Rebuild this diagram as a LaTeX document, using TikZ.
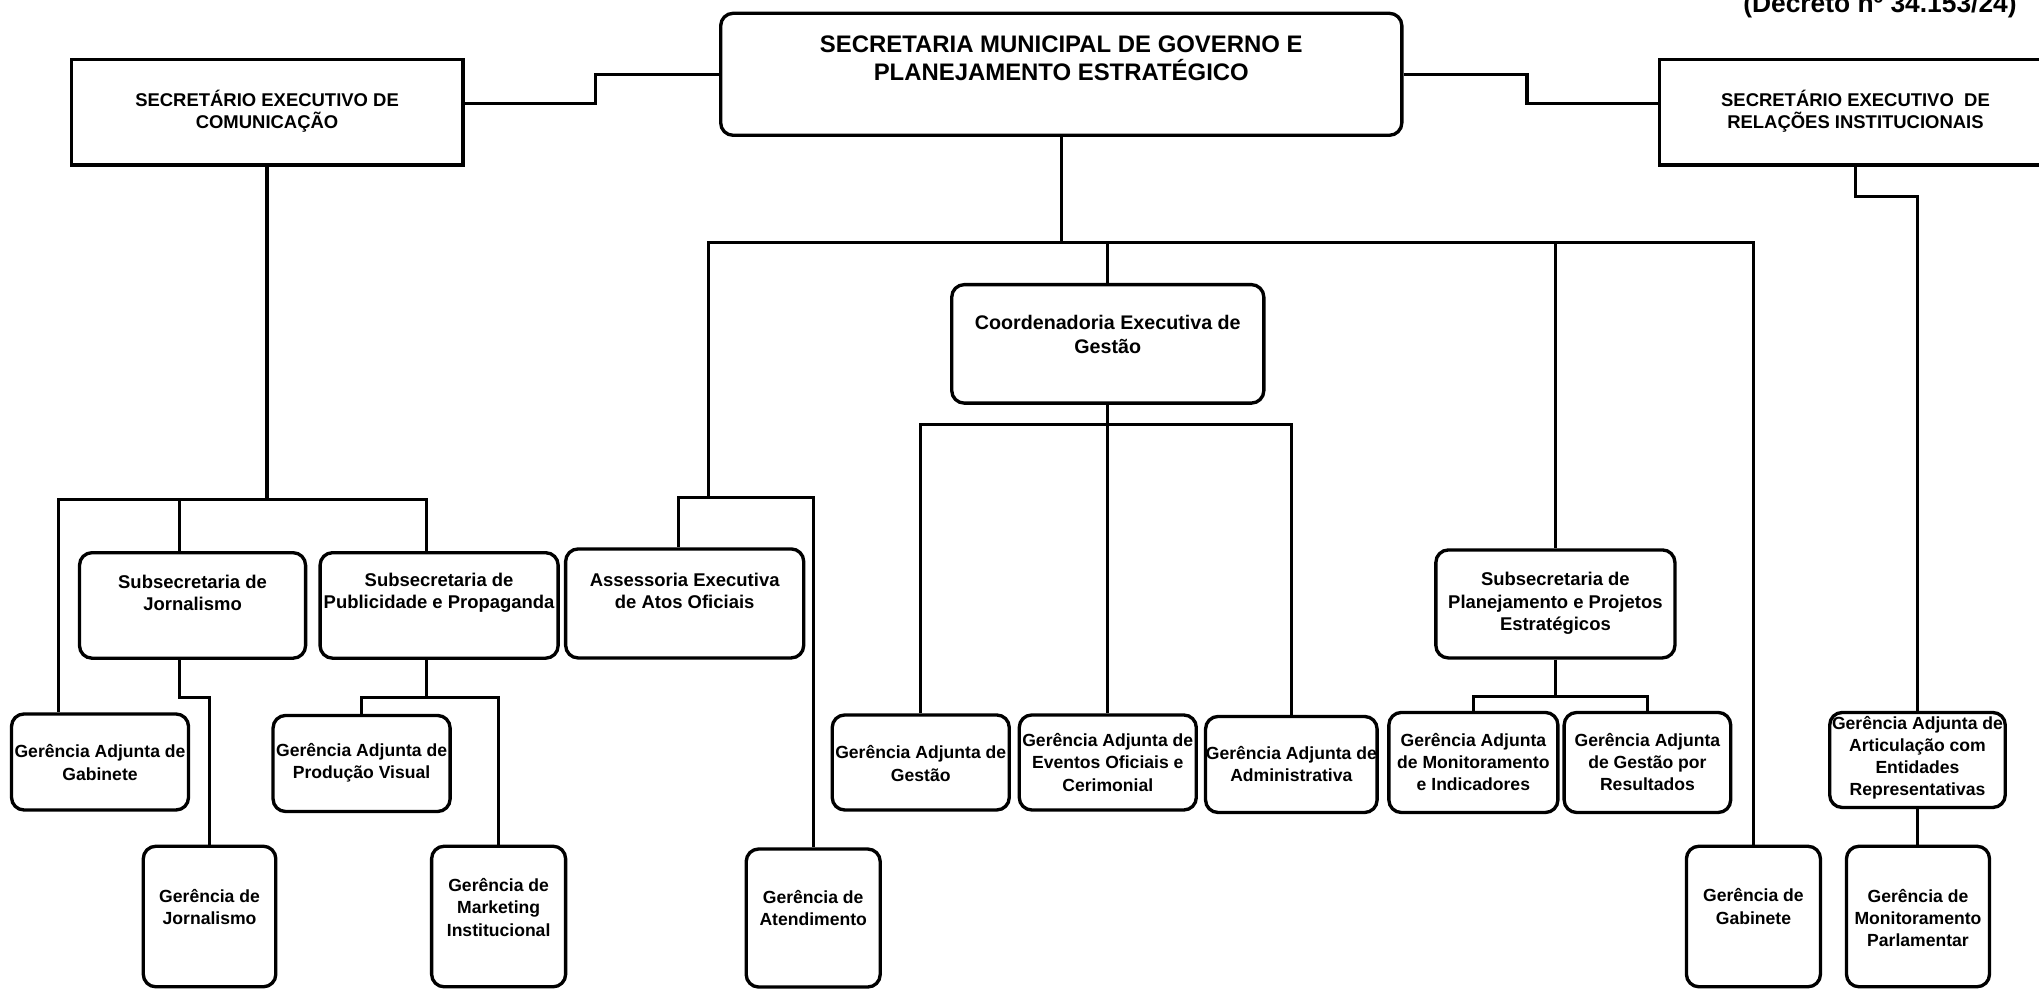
\documentclass[tikz,border=0pt]{standalone}
\usepackage{fontspec}
\setmainfont{Liberation Sans}
\usepackage{tikz}
\usetikzlibrary{shapes,backgrounds}
\tikzset{
	unit/.style={draw, line width=1.9pt, rounded corners=0.25cm, inner sep=0pt},
	execbox/.style={draw, line width=1.9pt, inner sep=0pt},
	lbl/.style={align=center, inner sep=0pt, font=\bfseries\fontsize{10}{12.6}\selectfont},
	biglbl/.style={lbl, font=\bfseries\fontsize{10.5}{12.8}\selectfont},
	link/.style={line width=1.8pt}
}

\begin{document}
\begin{tikzpicture}
			\useasboundingbox (0,0) rectangle (40.77,19.786);

			\node[unit, minimum width=13.62cm, minimum height=2.44cm] (gov) at (21.22,18.30) {};
			\node[lbl, font=\bfseries\fontsize{13.6}{16.3}\selectfont] (govt) at (21.22,18.62) {SECRETARIA MUNICIPAL DE GOVERNO E\\PLANEJAMENTO ESTRATÉGICO};
			\node[lbl, font=\bfseries\fontsize{15}{18}\selectfont, anchor=base] (decreto) at (37.59,19.53) {(Decreto nº 34.153/24)};

			\node[execbox, minimum width=7.83cm, minimum height=2.11cm] (secom) at (5.34,17.54) {};
			\node[biglbl] (secomt) at (5.34,17.56) {SECRETÁRIO EXECUTIVO DE\\COMUNICAÇÃO};
			\node[execbox, minimum width=7.85cm, minimum height=2.11cm] (serel) at (37.10,17.54) {};
			\node[biglbl] (serelt) at (37.10,17.56) {SECRETÁRIO EXECUTIVO\ \ DE\\RELAÇÕES INSTITUCIONAIS};

			\node[unit, minimum width=6.24cm, minimum height=2.37cm] (coord) at (22.15,12.91) {};
			\node[lbl, font=\bfseries\fontsize{11.2}{13.3}\selectfont] (coordt) at (22.15,13.10) {Coordenadoria Executiva de\\Gestão};

			\node[unit, minimum width=4.52cm, minimum height=2.11cm] (sjorn) at (3.85,7.68) {};
			\node[biglbl] (sjornt) at (3.85,7.93) {Subsecretaria de\\Jornalismo};
			\node[unit, minimum width=4.76cm, minimum height=2.11cm] (spub) at (8.78,7.68) {};
			\node[biglbl] (spubt) at (8.78,7.93) {Subsecretaria de\\Publicidade e Propaganda};
			\node[unit, minimum width=4.76cm, minimum height=2.18cm] (aseo) at (13.69,7.72) {};
			\node[biglbl] (aseot) at (13.69,7.97) {Assessoria Executiva\\de Atos Oficiais};
			\node[unit, minimum width=4.78cm, minimum height=2.16cm] (splan) at (31.10,7.71) {};
			\node[biglbl] (splant) at (31.10,7.72) {Subsecretaria de\\Planejamento e Projetos\\Estratégicos};

			\node[unit, minimum width=3.54cm, minimum height=1.92cm] (gagab) at (2.00,4.55) {};
			\node[lbl] (gagabt) at (2.00,4.54) {Gerência Adjunta de\\Gabinete};
			\node[unit, minimum width=3.54cm, minimum height=1.92cm] (gaprod) at (7.23,4.52) {};
			\node[lbl] (gaprodt) at (7.23,4.54) {Gerência Adjunta de\\Produção Visual};
			\node[unit, minimum width=3.54cm, minimum height=1.90cm] (gages) at (18.41,4.54) {};
			\node[lbl] (gagest) at (18.41,4.52) {Gerência Adjunta de\\Gestão};
			\node[unit, minimum width=3.54cm, minimum height=1.90cm] (gaeve) at (22.15,4.54) {};
			\node[lbl] (gaevet) at (22.15,4.54) {Gerência Adjunta de\\Eventos Oficiais e\\Cerimonial};
			\node[unit, minimum width=3.43cm, minimum height=1.92cm] (gaadm) at (25.82,4.50) {};
			\node[lbl] (gaadmt) at (25.82,4.51) {Gerência Adjunta de\\Administrativa};
			\node[unit, minimum width=3.38cm, minimum height=2.00cm] (gamon) at (29.46,4.54) {};
			\node[lbl] (gamont) at (29.46,4.55) {Gerência Adjunta\\de Monitoramento\\e Indicadores};
			\node[unit, minimum width=3.33cm, minimum height=2.00cm] (gares) at (32.94,4.54) {};
			\node[lbl] (garest) at (32.94,4.55) {Gerência Adjunta\\de Gestão por\\Resultados};
			\node[unit, minimum width=3.51cm, minimum height=1.90cm] (gaart) at (38.34,4.59) {};
			\node[lbl] (gaartt) at (38.34,4.63) {Gerência Adjunta de\\Articulação com\\Entidades\\Representativas};

			\node[unit, minimum width=2.65cm, minimum height=2.81cm] (gjorn) at (4.19,1.46) {};
			\node[lbl] (gjornt) at (4.19,1.65) {Gerência de\\Jornalismo};
			\node[unit, minimum width=2.68cm, minimum height=2.81cm] (gmkt) at (9.97,1.46) {};
			\node[lbl] (gmktt) at (9.97,1.64) {Gerência de\\Marketing\\Institucional};
			\node[unit, minimum width=2.68cm, minimum height=2.76cm] (gate) at (16.26,1.43) {};
			\node[lbl] (gatet) at (16.26,1.63) {Gerência de\\Atendimento};
			\node[unit, minimum width=2.68cm, minimum height=2.81cm] (ggab) at (35.06,1.46) {};
			\node[lbl] (ggabt) at (35.06,1.66) {Gerência de\\Gabinete};
			\node[unit, minimum width=2.86cm, minimum height=2.81cm] (gmparl) at (38.35,1.46) {};
			\node[lbl] (gmparlt) at (38.35,1.43) {Gerência de\\Monitoramento\\Parlamentar};

			\draw[link] (gov.west) -- ++(-2.47,0) |- ([yshift=0.17cm]secom.east);
			\draw[link] (gov.east) -- ++(2.47,0) |- ([yshift=0.17cm]serel.west);
			\draw[link] (gov.south) -- ++(0,-2.11) coordinate (govbus);
			\coordinate (asebus) at (14.17,9.83);
			\draw[link] (govbus) -| (asebus);
			\draw[link] (govbus) -| (coord.north);
			\draw[link] (govbus) -| (splan.north);
			\draw[link] (govbus) -| (ggab.north);
			\draw[link] (asebus) -| ([xshift=-0.12cm]aseo.north);
			\draw[link] (asebus) -| (gate.north);

			\draw[link] (coord.south) -- ++(0,-0.39) coordinate (coordbus);
			\draw[link] (coordbus) -| (gages.north);
			\draw[link] (coordbus) -- (gaeve.north);
			\draw[link] (coordbus) -| (gaadm.north);

			\draw[link] (splan.south) -- ++(0,-0.73) coordinate (splanbus);
			\draw[link] (splanbus) -| (gamon.north);
			\draw[link] (splanbus) -| (gares.north);

			\draw[link] (serel.south) -- ++(0,-0.6) -| (gaart.north);
			\draw[link] (gaart.south) -- (gaart.south |- gmparl.north);

			\draw[link] (secom.south) -- ++(0,-6.66) coordinate (secombus);
			\draw[link] (secombus) -| ([xshift=-0.83cm]gagab.north);
			\draw[link] (secombus) -| ([xshift=-0.26cm]sjorn.north);
			\draw[link] (secombus) -| ([xshift=-0.25cm]spub.north);
			\draw[link] ([xshift=-0.26cm]sjorn.south) -- ++(0,-0.75) -| (gjorn.north);
			\draw[link] ([xshift=-0.25cm]spub.south) -- ++(0,-0.75) coordinate (spubbus);
			\draw[link] (spubbus) -| (gaprod.north);
			\draw[link] (spubbus) -| (gmkt.north);
		\end{tikzpicture}
\end{document}
